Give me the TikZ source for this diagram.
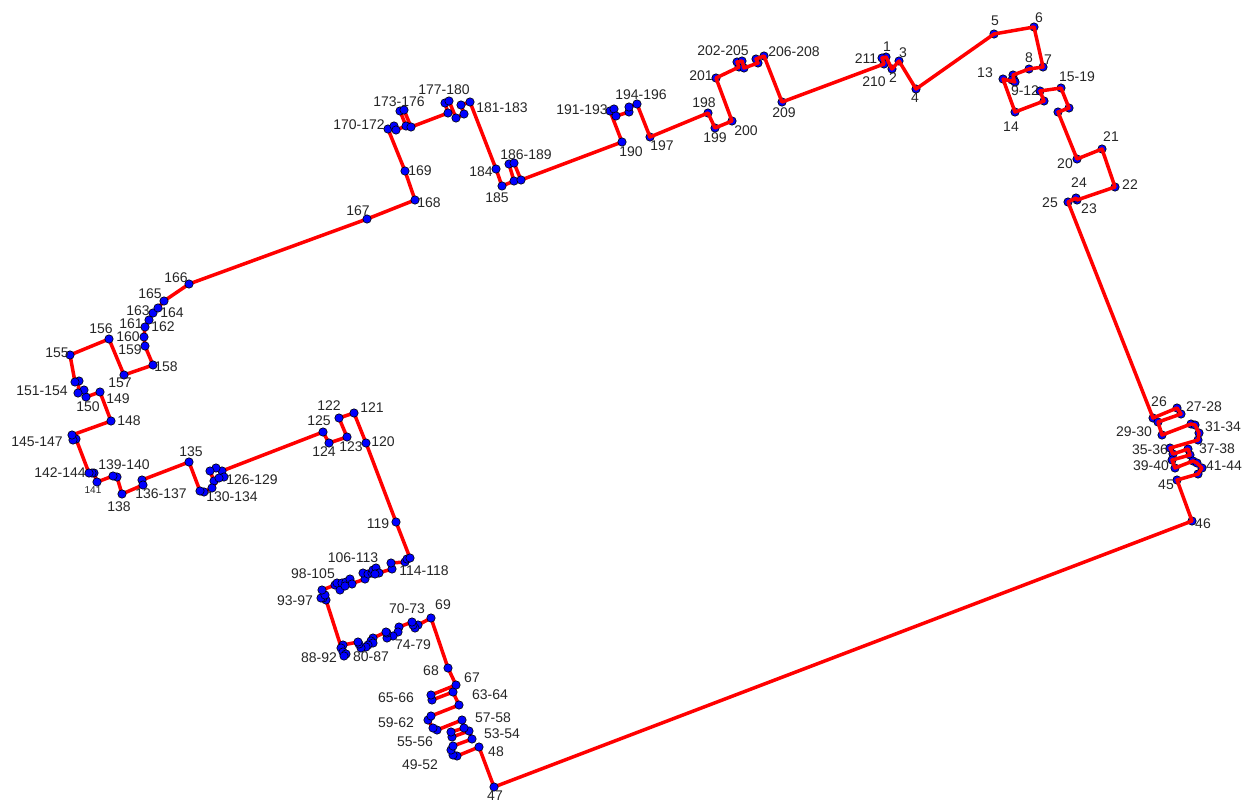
\documentclass[tikz,border=0pt]{standalone}
\usepackage{xcolor}
\usepackage{fontspec}
\setmainfont{Liberation Sans}
\pgfdeclarelayer{back}
\pgfdeclarelayer{route}
\pgfsetlayers{back,route,main}
\tikzset{
  vertex/.style={draw=black, fill=blue, circle, line width=0.6pt, minimum size=8.4pt, inner sep=0pt},
  boundary/.style={draw=red, line width=3.5pt, line join=round, line cap=round},
  ptlabel/.style={inner sep=0pt, text=black!85, font=\fontsize{14}{16}\selectfont},
  ptsmall/.style={inner sep=0pt, text=black!85, font=\fontsize{10}{12}\selectfont}
}
\begin{document}
\begin{tikzpicture}[x=1pt,y=-1pt]
\useasboundingbox (0,0) rectangle (1246,803);
\begin{pgfonlayer}{back}
\foreach \px/\py [count=\i] in {886/57,892/69,899/61,916/89,994/34,1034/27,1043/67,1029/69,1013/75,1014/80,1012/80,1015/82,1003/79,1015/112,1044/101,1040/91,1061/88,1069/108,1058/112,1077/159,1102/149,1115/187,1077/200,1076/198,1068/202,1153/418,1177/408,1181/414,1158/422,1162/435,1191/424,1195/425,1199/433,1198/440,1170/448,1173/454,1188/449,1190/455,1172/460,1175/468,1193/461,1197/463,1202/468,1198/474,1177/480,1192/521}
  \node[vertex] (v\i) at (\px,\py) {};
\foreach \px/\py [count=\i from 197] in {650/137,708/113,715/128,732/121,716/78,739/67,737/62,742/61,744/68,758/63,756/59,764/56,782/102,884/64,882/58}
  \node[vertex] (v\i) at (\px,\py) {};
\end{pgfonlayer}
\foreach \px/\py [count=\i from 47] in {494/787,479/747,457/756,453/755,451/750,453/746,472/739,469/731,452/737,451/732,464/728,462/720,437/730,433/728,428/720,431/716,459/705,453/692,432/700,431/695,456/685,448/668,431/618,418/625,415/628,413/625,412/622,399/627,398/632,393/636,387/638,387/633,386/632,373/638,371/641,373/643,368/645,366/647,361/648,359/644,358/642,343/645,341/648,343/652,346/654,344/656,326/600,323/598,321/598,325/595,322/590,335/585,340/590,337/583,342/583,346/582,350/579,352/584,345/586,365/579,363/573,368/574,372/573,373/570,376/568,379/573,375/574,392/569,391/563,405/562,407/559,410/558,396/522,366/443,354/413,339/418,347/437,329/443,323/432,222/471,216/468,210/471,214/481,224/477,219/478,212/488,204/492,200/491,189/462,142/480,143/485,122/494,117/477,113/476,97/482,94/473,92/473,89/473,76/439,73/440,72/435,111/421,100/392,86/397,84/390,78/393,79/381,75/382,70/355,109/339,124/375,153/365,145/346,144/337,145/327,149/320,153/313,158/308,164/301,189/284,367/219,415/200,405/171,388/129,394/126,396/130,406/126,400/111,404/110,411/127,448/113,445/103,449/101,456/118,464/114,461/105,470/102,496/169,502/186,514/181,509/164,514/163,521/180,622/142,610/111,614/109,616/116,629/112,629/107,637/104}
  \node[vertex] (v\i) at (\px,\py) {};
\begin{pgfonlayer}{route}
\draw[boundary] (v1.center) foreach \i in {2,...,211} { -- (v\i.center) } -- cycle;
\end{pgfonlayer}
\foreach \lx/\ly/\txt [count=\j] in {887/47/1,893/78/2,903/53/3,915/98/4,995/21/5,1039/18/6,1048/60/7,1029/58/8,1025/91/9-12,985/73/13,1011/127/14,1077/77/15-19,1065/164/20,1111/137/21,1130/185/22,1089/209/23,1079/183/24,1050/203/25,1159/402/26,1204/407/27-28,1134/432/29-30,1223/427/31-34,1150/450/35-36,1217/449/37-38,1151/466/39-40,1224/466/41-44,1166/485/45,1203/524/46,495/796/47,496/752/48,420/765/49-52,502/734/53-54,415/742/55-56,493/718/57-58,396/723/59-62,490/695/63-64,396/698/65-66,472/678/67,431/671/68,443/605/69,407/609/70-73,413/645/74-79,371/657/80-87,319/658/88-92,295/601/93-97,313/574/98-105,353/558/106-113,424/571/114-118,378/524/119,383/442/120,372/408/121,329/406/122,351/447/123,324/452/124,319/421/125,252/480/126-129,232/497/130-134,191/452/135,161/494/136-137,119/507/138,124/465/139-140,60/473/142-144,37/442/145-147,129/421/148,118/399/149,88/407/150,42/391/151-154,57/353/155,101/329/156,120/383/157,166/367/158,130/350/159,128/337/160,131/324/161,163/327/162,138/311/163,172/313/164,150/294/165,176/278/166,358/211/167,429/203/168,420/171/169,359/125/170-172,399/102/173-176,444/90/177-180,502/108/181-183,481/172/184,497/198/185,526/155/186-189,631/152/190,582/110/191-193,641/95/194-196,662/146/197,704/103/198,715/138/199,746/131/200,701/76/201,723/51/202-205,794/52/206-208,784/113/209,874/82/210,866/59/211}
  \node[ptlabel] (lab\j) at (\lx,\ly) {\txt};
\node[ptsmall] (labsmall) at (93,490) {141};
\end{tikzpicture}
\end{document}
